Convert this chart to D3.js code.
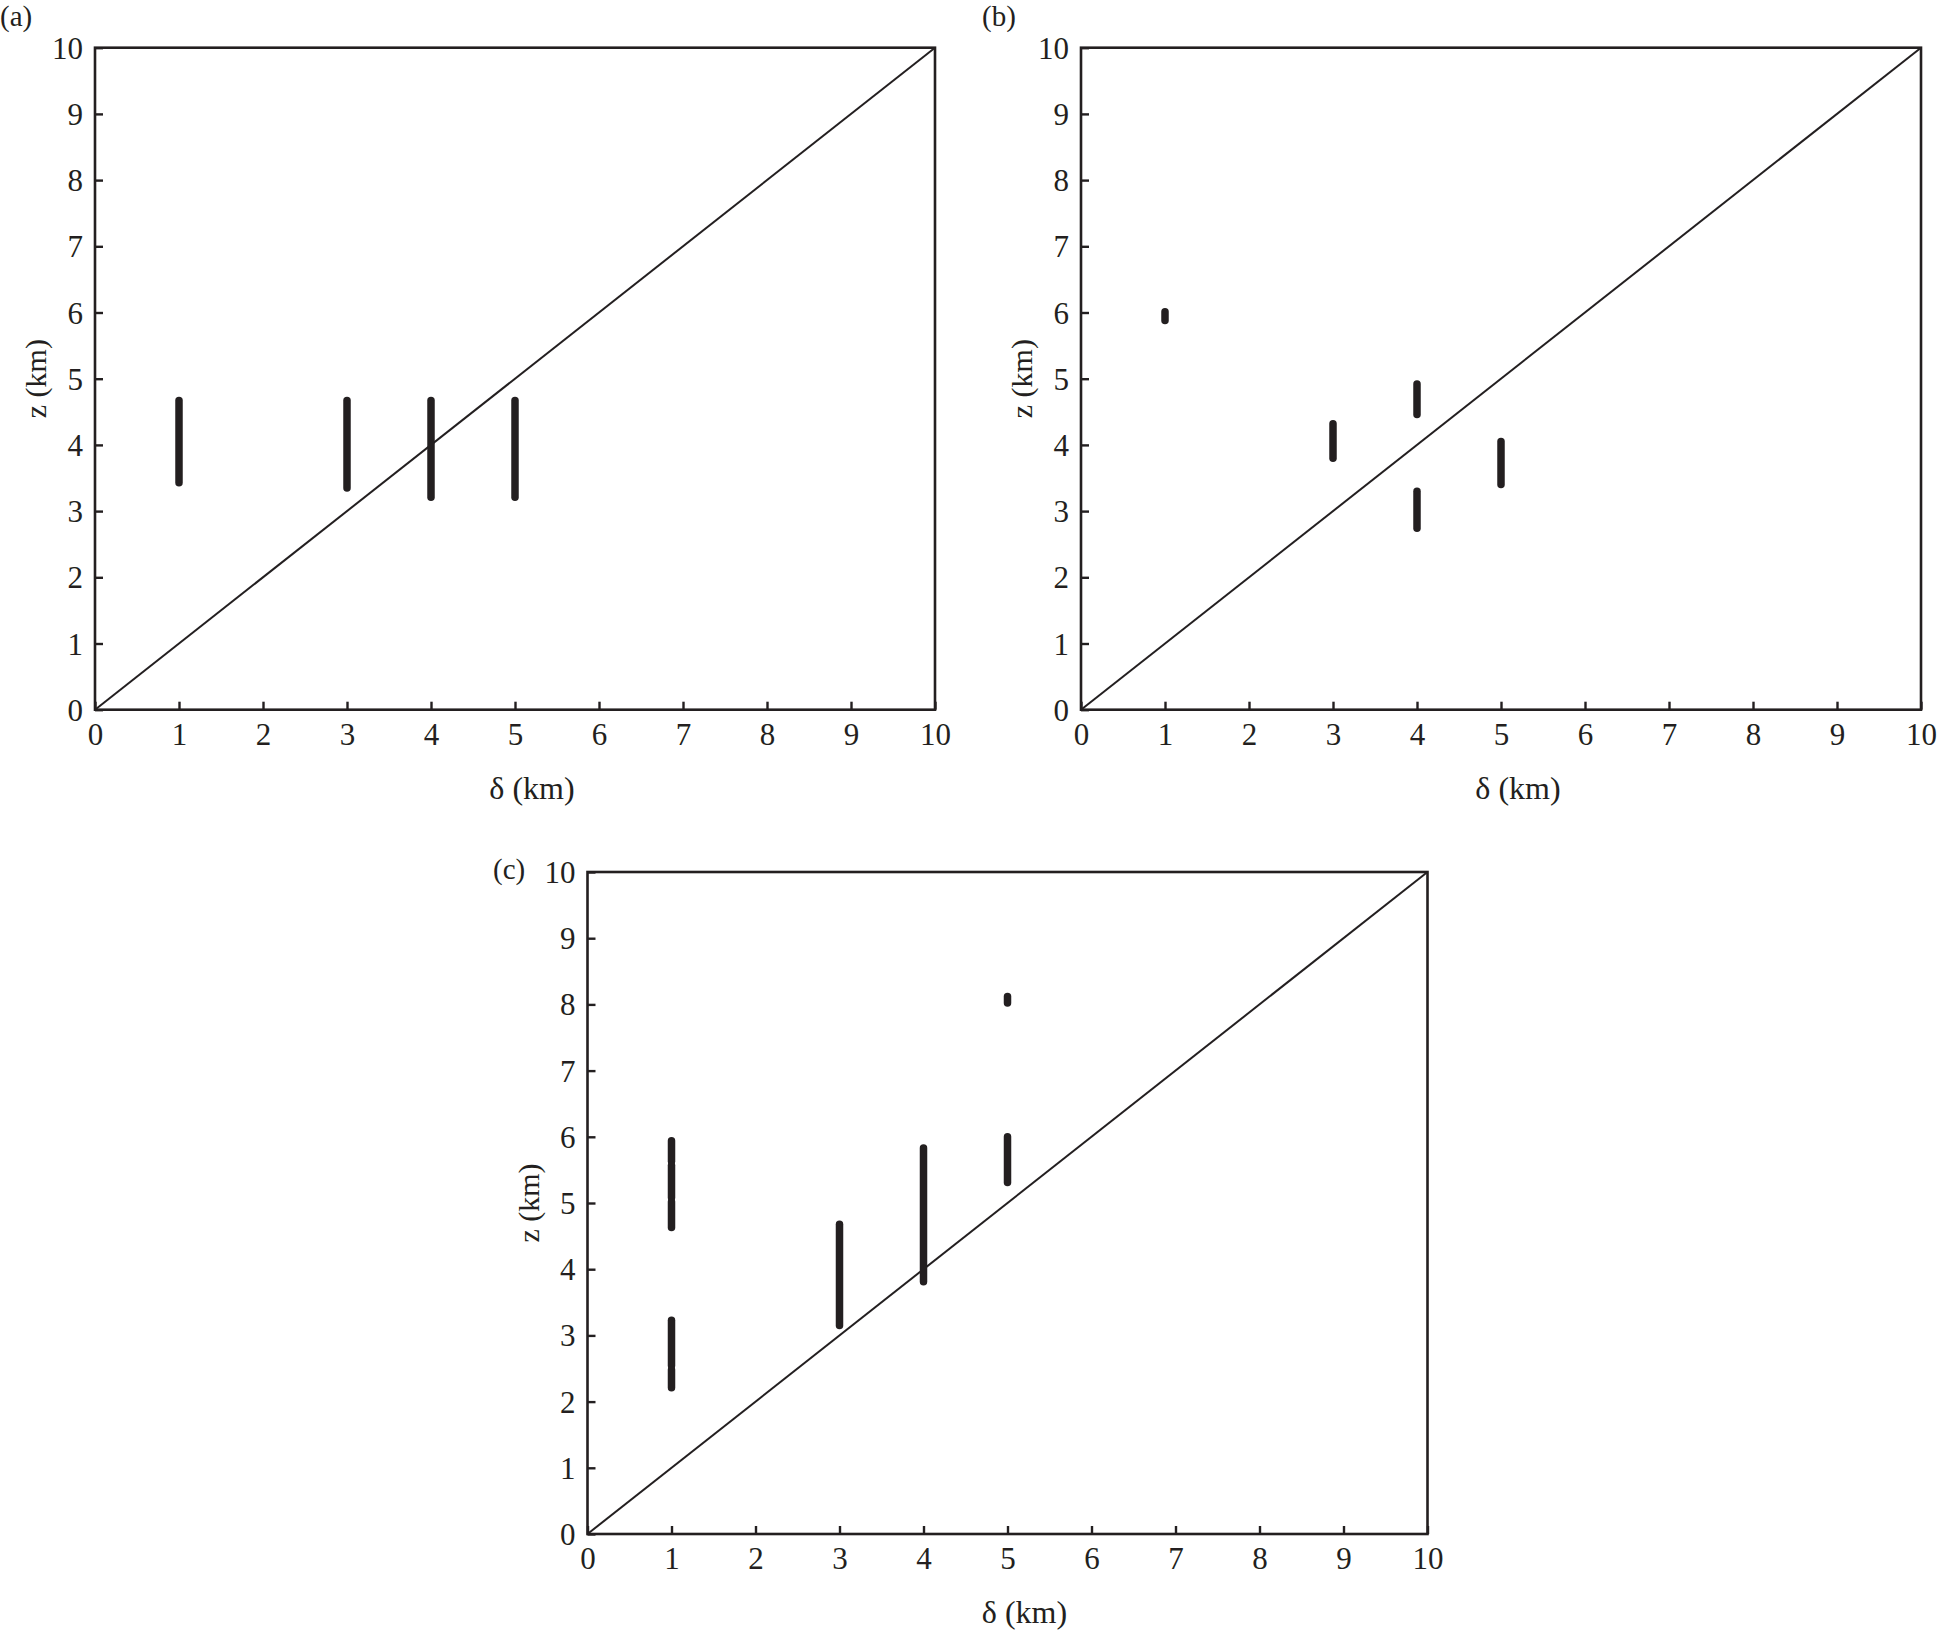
<!DOCTYPE html>
<html><head><meta charset="utf-8">
<script src="https://cdn.jsdelivr.net/npm/d3@7"></script>
<style>
html,body{margin:0;padding:0;background:#fff;}
text{font-family:"Liberation Serif","Times New Roman",Times,serif;fill:#231f20;}
</style></head>
<body>
<svg id="chart" width="1937" height="1632"></svg>
<script>
// Tick values (both axes)
const tickValues = [0,1,2,3,4,5,6,7,8,9,10];
const panelLabels = ["(a)","(b)","(c)"];
const xTitle = "δ (km)";
const yTitle = "z (km)";
// Clusters of points: [delta (km), lowest z (km), highest z (km)]
const clustersA = [
  [1, 3.43, 4.67],
  [3, 3.35, 4.67],
  [4, 3.21, 4.67],
  [5, 3.21, 4.67]
];
const clustersB = [
  [1, 5.88, 6.01],
  [3, 3.80, 4.32],
  [4, 4.46, 4.92],
  [4, 2.74, 3.30],
  [5, 3.40, 4.05]
];
const clustersC = [
  [1, 5.63, 5.94],
  [1, 5.08, 5.57],
  [1, 4.63, 5.02],
  [1, 2.54, 3.23],
  [1, 2.21, 2.48],
  [3, 3.15, 4.68],
  [4, 3.81, 5.83],
  [5, 8.02, 8.12],
  [5, 5.31, 6.00]
];
const reference = [[0,0],[10,10]];

const panels = [
  {label: panelLabels[0], left: 95,   top: 47.7, data: clustersA, lx: 0,   ly: 26},
  {label: panelLabels[1], left: 1081, top: 47.7, data: clustersB, lx: 982, ly: 26},
  {label: panelLabels[2], left: 587.5,top: 872,  data: clustersC, lx: 493, ly: 879}
];
const W = 840, H = 662;
const ink = "#231f20";
const svg = d3.select("#chart");
const FONT = "'Liberation Serif','Times New Roman',Times,serif";

panels.forEach(p => {
  const g = svg.append("g").attr("transform", `translate(${p.left},${p.top})`);
  const x = d3.scaleLinear().domain([0,10]).range([0,W]);
  const y = d3.scaleLinear().domain([0,10]).range([H,0]);

  // frame
  g.append("rect").attr("x",0).attr("y",0).attr("width",W).attr("height",H)
    .attr("fill","none").attr("stroke",ink).attr("stroke-width",2.6);

  // axes with inward ticks
  const xa = g.append("g").attr("transform",`translate(0,${H})`)
    .call(d3.axisBottom(x).tickValues(tickValues).tickSize(-8).tickPadding(0).tickFormat(d3.format("d")));
  xa.attr("font-family",FONT);
  xa.select(".domain").remove();
  xa.selectAll("line").attr("stroke",ink).attr("stroke-width",2.4);
  xa.selectAll("text").attr("font-size",31).attr("fill",ink).attr("font-family",FONT)
    .attr("dy",null).attr("y",35);

  const ya = g.append("g")
    .call(d3.axisLeft(y).tickValues(tickValues).tickSize(-8).tickPadding(0).tickFormat(d3.format("d")));
  ya.attr("font-family",FONT);
  ya.select(".domain").remove();
  ya.selectAll("line").attr("stroke",ink).attr("stroke-width",2.4);
  ya.selectAll("text").attr("font-size",31).attr("fill",ink).attr("font-family",FONT)
    .attr("x",-12).attr("dy","0.34em");

  // diagonal reference line
  g.append("path").datum(reference)
    .attr("d", d3.line().x(d=>x(d[0])).y(d=>y(d[1])))
    .attr("fill","none").attr("stroke",ink).attr("stroke-width",2);

  // point clusters
  g.selectAll("line.cl").data(p.data).join("line").attr("class","cl")
    .attr("x1",d=>x(d[0])).attr("x2",d=>x(d[0]))
    .attr("y1",d=>y(d[1])).attr("y2",d=>y(d[2]))
    .attr("stroke",ink).attr("stroke-width",7.5).attr("stroke-linecap","round");

  // titles
  g.append("text").attr("x",437).attr("y",H+89).attr("text-anchor","middle")
    .attr("font-family",FONT).attr("font-size",32).text(xTitle);
  g.append("text").attr("transform",`translate(-49,${H/2}) rotate(-90)`)
    .attr("text-anchor","middle").attr("font-family",FONT).attr("font-size",30).text(yTitle);

  svg.append("text").attr("x",p.lx).attr("y",p.ly).attr("font-family",FONT)
    .attr("font-size",29).text(p.label);
});
</script>
</body></html>
